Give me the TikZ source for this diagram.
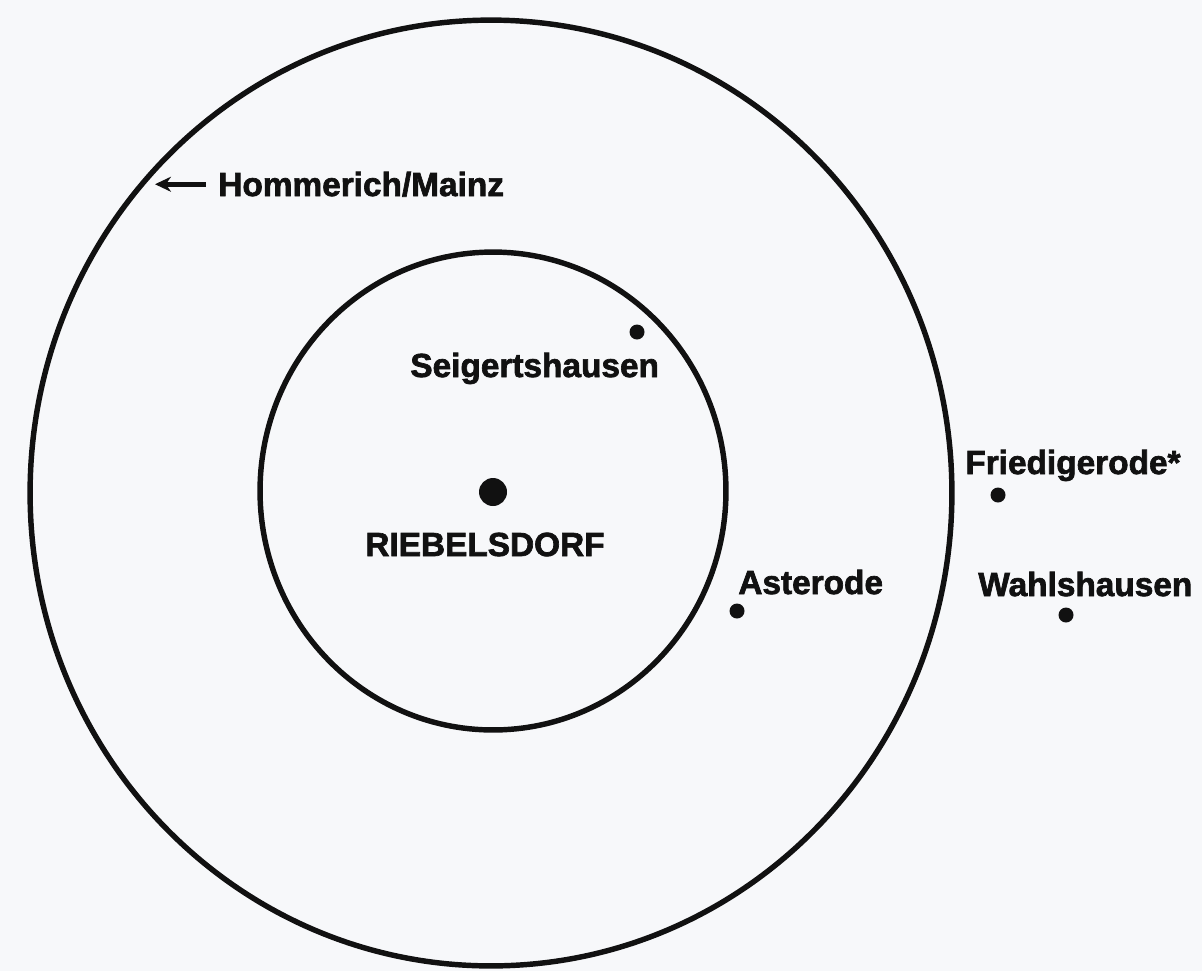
\documentclass[tikz,border=0pt]{standalone}
\usepackage{fontspec}
\setmainfont{Liberation Sans}[BoldFeatures={FakeBold=2}]
\usepackage{xcolor}
\usetikzlibrary{arrows.meta,positioning}
\definecolor{mapInk}{HTML}{111111}
\definecolor{mapPaper}{HTML}{F7F8FA}

\begin{document}
\begin{tikzpicture}[
  x=0.02cm, y=-0.02cm,
  >={Stealth[length=3.2mm,width=3mm]},
  ring/.style={draw=mapInk, line width=3.1pt},
  place node/.style={font=\fontsize{19}{22}\selectfont\bfseries, text=mapInk, inner sep=0pt},
  town dot/.style={circle, fill=mapInk, minimum size=5.6mm, inner sep=0pt},
  village dot/.style={circle, fill=mapInk, minimum size=3mm, inner sep=0pt},
  pointer/.style={->, draw=mapInk, line width=2.8pt},
]

% paper and bounding box
\fill[mapPaper] (0,0) rectangle (1202,971);
\useasboundingbox (0,0) rectangle (1202,971);

% the two rings around the village
\draw[ring] (491,493) ellipse [x radius=9.22cm, y radius=9.46cm];
\draw[ring] (493,491) ellipse [x radius=4.66cm, y radius=4.78cm];

% centre
\node[town dot] (riebelsdorfDot) at (493,492) {};
\node[place node, anchor=base west] (riebelsdorf) at (365,556) {RIEBELSDORF};

% inner ring
\node[village dot] (seigertshausenDot) at (637,332) {};
\node[place node, anchor=base west] (seigertshausen) at (410,377) {Seigertshausen};

% outer ring
\node[village dot] (asterodeDot) at (737,611) {};
\node[place node, anchor=base west] (asterode) at (738,594) {Asterode};

% outside the rings
\node[village dot] (friedigerodeDot) at (998,495) {};
\node[place node, anchor=base west] (friedigerode) at (965,474) {Friedigerode*};
\node[village dot] (wahlshausenDot) at (1066,615) {};
\node[place node, anchor=base west] (wahlshausen) at (978,596) {Wahlshausen};

% far away, pointing out
\node[place node, anchor=base west] (hommerich) at (218,196) {Hommerich/Mainz};
\coordinate (mainzTip) at (155,184);
\draw[pointer, shorten <=2.5mm] (hommerich.west) -- (hommerich.west -| mainzTip);

\end{tikzpicture}
\end{document}
